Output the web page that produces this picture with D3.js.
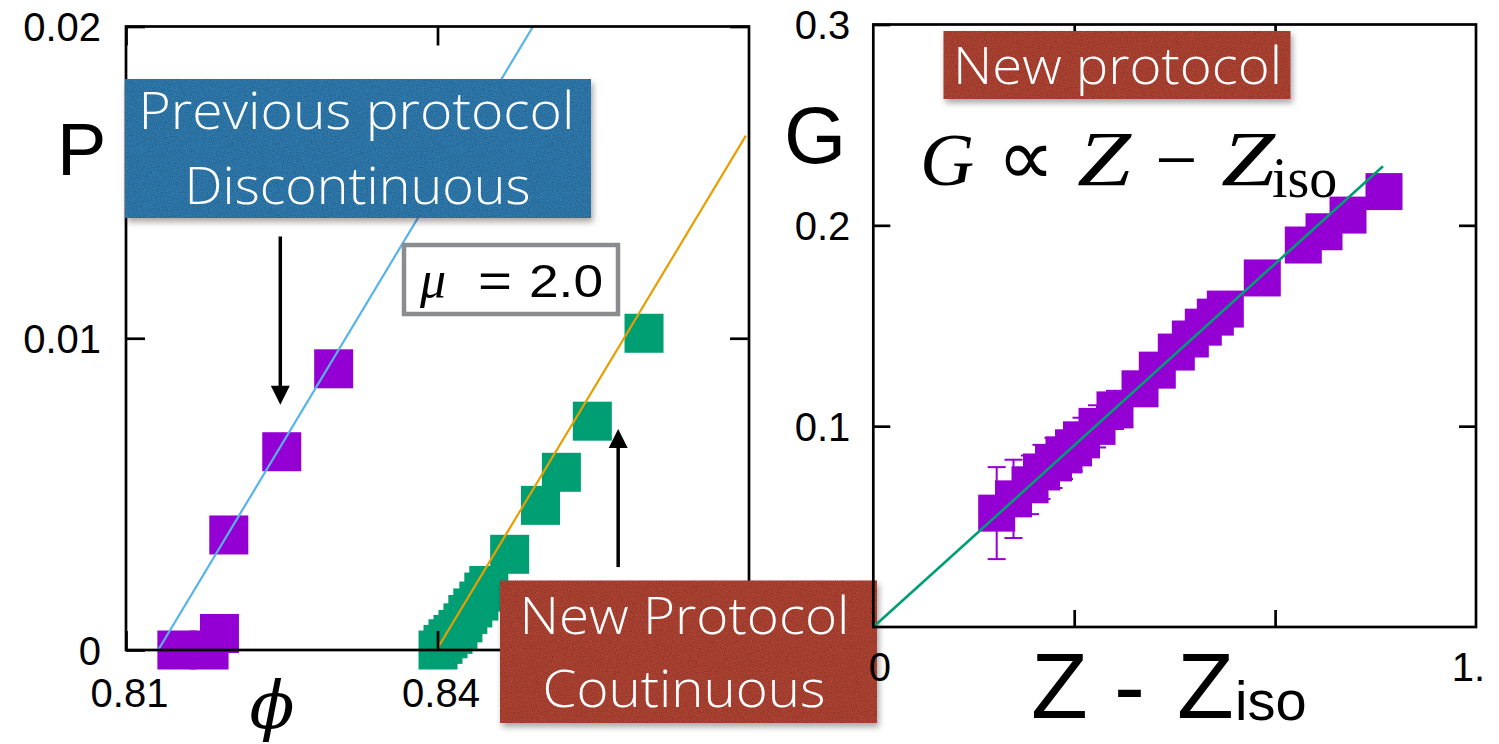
<!DOCTYPE html>
<html>
<head>
<meta charset="utf-8">
<script src="https://cdn.jsdelivr.net/npm/d3@7"></script>
<style>
  html, body { margin: 0; padding: 0; background: #ffffff; }
  svg { display: block; }
</style>
</head>
<body>
<svg id="chart" width="1499" height="744"></svg>
<script>
// ---- Pressure vs packing fraction (left panel) ----
const phiPrev = [0.8149, 0.8180, 0.8190, 0.8199, 0.8250, 0.8300];
const pPrev   = [0.0000, 0.0000, 0.00053, 0.00369, 0.00636, 0.00902];

const phiNew = [0.84005, 0.84053, 0.84101, 0.84149, 0.84197, 0.84245, 0.84292, 0.84340,
                0.84398, 0.84446, 0.84494, 0.84695, 0.84992, 0.85193, 0.85491, 0.85989];
const pNew   = [0.00000, 0.00018, 0.00036, 0.00050, 0.00066, 0.00087, 0.00114, 0.00135,
                0.00157, 0.00186, 0.00207, 0.00307, 0.00464, 0.00570, 0.00734, 0.01016];

// linear fits P = a (phi - phi_c), given by their end points
const fitPrev = [[0.8131, 0.0], [0.8492, 0.02]];
const fitNew  = [[0.8399, 0.0], [0.8697, 0.0165]];

const leftXDomain = [0.81, 0.87];
const leftYDomain = [0, 0.02];
const leftXTicks = [0.81, 0.84];
const leftXTickLabels = ["0.81", "0.84"];
const leftYTicks = [0, 0.01, 0.02];
const leftYTickLabels = ["0", "0.01", "0.02"];

// arrows, in data units: [phi, P from, P to]
const arrowPrev = [0.82486, 0.01326, 0.00787];
const arrowNew  = [0.85740, 0.00266, 0.00709];

// ---- Shear modulus vs excess contact number (right panel) ----
const zDiff = [0.3071, 0.3489, 0.3900, 0.4186, 0.4485, 0.4746, 0.4983, 0.5182, 0.5568, 0.6015,
               0.6638, 0.7068, 0.7541, 0.7890, 0.8213, 0.8512, 0.8761, 0.9681, 1.0702, 1.1217,
               1.1814, 1.2710];
const gMod  = [0.0567, 0.0638, 0.0708, 0.0772, 0.0817, 0.0857, 0.0892, 0.0932, 0.0999, 0.1081,
               0.1186, 0.1279, 0.1369, 0.1434, 0.1493, 0.1543, 0.1583, 0.1738, 0.1902, 0.1968,
               0.2051, 0.2168];
const gErr  = [0.0229, 0.0195, 0.0146, 0.0135, 0.0125, 0.0120, 0.0115, 0.0110, 0.0105, 0.0095,
               0.0080, 0.0075, 0.0070, 0.0065, 0.0060, 0.0060, 0.0055, 0.0050, 0.0050, 0.0045,
               0.0045, 0.0040];
const fitG = [[0, 0], [1.2685, 0.2294]];

const rightXDomain = [0, 1.5];
const rightYDomain = [0, 0.3];
const rightXTicks = [0, 0.5, 1.0, 1.5];
const rightXTickLabels = ["0", "", "", "1."];
const rightYTicks = [0, 0.1, 0.2, 0.3];
const rightYTickLabels = ["0", "0.1", "0.2", "0.3"];

// colours
const PURPLE = "#9400d3", GREEN = "#009e73", SKY = "#56b4e9", ORANGE = "#e69f00";
const BLUEBOX = "#2e79ad", REDBOX = "#ad4331";

const svg = d3.select("#chart");
const SANS = "'Liberation Sans', Arial, Helvetica, sans-serif";
const SERIF = "'Liberation Serif', 'Times New Roman', serif";
const LIGHT = "'Open Sans', Lato, 'Noto Sans', sans-serif";

svg.append("rect").attr("width", 1499).attr("height", 744).attr("fill", "#fff");

// filters: drop shadow for the tag boxes, fine paper grain on them
const defs = svg.append("defs");
const sh = defs.append("filter").attr("id", "shadow")
  .attr("x", "-10%").attr("y", "-10%").attr("width", "130%").attr("height", "140%");
sh.append("feDropShadow").attr("dx", 2).attr("dy", 4).attr("stdDeviation", 3)
  .attr("flood-color", "#000").attr("flood-opacity", 0.35);
const gr = defs.append("filter").attr("id", "grain").attr("x", 0).attr("y", 0).attr("width", 1).attr("height", 1);
gr.append("feTurbulence").attr("type", "fractalNoise").attr("baseFrequency", 0.8)
  .attr("numOctaves", 3).attr("seed", 5).attr("result", "n");
gr.append("feColorMatrix").attr("in", "n").attr("type", "matrix")
  .attr("values", "0 0 0 0 0  0 0 0 0 0  0 0 0 0 0  0.45 0 0 0 -0.17").attr("result", "a");
gr.append("feComposite").attr("in", "a").attr("in2", "SourceGraphic").attr("operator", "in");

// scale a text element so that its box fills the given rectangle
function fitInto(sel, x, y, w, h) {
  const b = sel.node().getBBox();
  const sx = w / b.width, sy = h / b.height;
  sel.attr("transform", `translate(${x - b.x * sx},${y - b.y * sy}) scale(${sx},${sy})`);
}

// ================= left panel =================
const L = { x0: 126, x1: 749, y0: 650, y1: 26.5 };
const xL = d3.scaleLinear().domain(leftXDomain).range([L.x0, L.x1]);
const yL = d3.scaleLinear().domain(leftYDomain).range([L.y0, L.y1]);

defs.append("clipPath").attr("id", "clipL").append("rect")
  .attr("x", L.x0).attr("y", L.y1).attr("width", L.x1 - L.x0).attr("height", L.y0 - L.y1);

const gL = svg.append("g");
const MS_L = 39;

gL.selectAll("rect.prev").data(phiPrev.map((p, i) => [p, pPrev[i]])).join("rect")
  .attr("class", "prev")
  .attr("x", d => xL(d[0]) - MS_L / 2).attr("y", d => yL(d[1]) - MS_L / 2)
  .attr("width", MS_L).attr("height", MS_L).attr("fill", PURPLE);

gL.selectAll("rect.new").data(phiNew.map((p, i) => [p, pNew[i]])).join("rect")
  .attr("class", "new")
  .attr("x", d => xL(d[0]) - MS_L / 2).attr("y", d => yL(d[1]) - MS_L / 2)
  .attr("width", MS_L).attr("height", MS_L).attr("fill", GREEN);

const lineL = d3.line().x(d => xL(d[0])).y(d => yL(d[1]));
const fitsL = gL.append("g").attr("clip-path", "url(#clipL)");
fitsL.append("path").attr("d", lineL(fitPrev)).attr("stroke", SKY).attr("stroke-width", 2.2).attr("fill", "none");
fitsL.append("path").attr("d", lineL(fitNew)).attr("stroke", ORANGE).attr("stroke-width", 2.2).attr("fill", "none");

// frame
gL.append("rect").attr("x", L.x0).attr("y", L.y1).attr("width", L.x1 - L.x0).attr("height", L.y0 - L.y1)
  .attr("fill", "none").attr("stroke", "#000").attr("stroke-width", 2.7);

function styleAxis(g, size) {
  g.select(".domain").remove();
  g.selectAll(".tick line").attr("stroke", "#000").attr("stroke-width", 2.7);
  g.selectAll(".tick text").attr("font-family", SANS).attr("font-size", size).attr("fill", "#000");
}

const TICKFS = 40;

const axL = gL.append("g").attr("transform", `translate(${L.x0},0)`)
  .call(d3.axisLeft(yL).tickValues(leftYTicks).tickSize(-19).tickPadding(25)
    .tickFormat((d, i) => leftYTickLabels[i]));
styleAxis(axL, TICKFS);
axL.selectAll(".tick text").attr("dy", "0.36em");

const axLR = gL.append("g").attr("transform", `translate(${L.x1},0)`)
  .call(d3.axisRight(yL).tickValues(leftYTicks).tickSize(-19).tickFormat(""));
styleAxis(axLR, TICKFS);

const axLB = gL.append("g").attr("transform", `translate(0,${L.y0})`)
  .call(d3.axisBottom(xL).tickValues(leftXTicks).tickSize(-19).tickPadding(0)
    .tickFormat((d, i) => leftXTickLabels[i]));
styleAxis(axLB, TICKFS);
axLB.selectAll(".tick text").attr("dy", null).attr("y", 57).attr("dx", 3);

const axLT = gL.append("g").attr("transform", `translate(0,${L.y1})`)
  .call(d3.axisTop(xL).tickValues(leftXTicks).tickSize(-19).tickFormat(""));
styleAxis(axLT, TICKFS);

// axis titles
gL.append("text").attr("x", 57).attr("y", 174.5).attr("font-family", SANS).attr("font-size", 74).text("P");
gL.append("text").attr("x", 272).attr("y", 728).attr("text-anchor", "middle")
  .attr("font-family", "'DejaVu Serif', serif").attr("font-style", "italic").attr("font-size", 66).text("ϕ");

// arrows
function arrow(g, a) {
  const x = xL(a[0]), ya = yL(a[1]), yb = yL(a[2]);
  const dir = yb > ya ? 1 : -1, head = 19, hw = 9.5;
  g.append("line").attr("x1", x).attr("x2", x).attr("y1", ya).attr("y2", yb - dir * head + dir * 1)
    .attr("stroke", "#000").attr("stroke-width", 3.5);
  g.append("path").attr("d", `M${x - hw},${yb - dir * head} L${x + hw},${yb - dir * head} L${x},${yb} Z`)
    .attr("fill", "#000");
}
arrow(gL, arrowPrev);
arrow(gL, arrowNew);

// mu label
const mu = gL.append("g");
mu.append("rect").attr("x", 404).attr("y", 245).attr("width", 214).attr("height", 69)
  .attr("fill", "#fff").attr("stroke", "#8a8c90").attr("stroke-width", 4.5);
mu.append("text").attr("x", 420).attr("y", 297).attr("font-family", SERIF).attr("font-style", "italic")
  .attr("font-size", 52).text("μ");
mu.append("text").attr("x", 478).attr("y", 297).attr("font-family", SANS).attr("font-size", 48)
  .attr("textLength", 34).attr("lengthAdjust", "spacingAndGlyphs").text("=");
mu.append("text").attr("x", 529).attr("y", 297).attr("font-family", SANS).attr("font-size", 47)
  .attr("textLength", 74).attr("lengthAdjust", "spacingAndGlyphs").text("2.0");

// tag boxes
function tag(g, x, y, w, h, fill, lines) {
  g.append("rect").attr("x", x).attr("y", y).attr("width", w).attr("height", h)
    .attr("fill", fill).attr("filter", "url(#shadow)");
  g.append("rect").attr("x", x).attr("y", y).attr("width", w).attr("height", h)
    .attr("fill", "#000").attr("filter", "url(#grain)");
  lines.forEach(l => {
    g.append("text").attr("x", l.cx).attr("y", l.base).attr("text-anchor", "middle")
      .attr("font-family", LIGHT).attr("font-weight", 300).attr("font-size", 51).attr("fill", "#fff")
      .attr("textLength", l.w).attr("lengthAdjust", "spacingAndGlyphs").text(l.t);
  });
}
tag(svg, 125, 79, 466, 139, BLUEBOX, [
  { t: "Previous protocol", cx: 356.5, base: 129, w: 436 },
  { t: "Discontinuous", cx: 357.5, base: 204, w: 346 }
]);
tag(svg, 500, 580.5, 377, 142.5, REDBOX, [
  { t: "New Protocol", cx: 684.5, base: 633.5, w: 330 },
  { t: "Coutinuous", cx: 684, base: 706.5, w: 283 }
]);

// ================= right panel =================
const R = { x0: 873.3, x1: 1476, y0: 627, y1: 24.5 };
const xR = d3.scaleLinear().domain(rightXDomain).range([R.x0, R.x1]);
const yR = d3.scaleLinear().domain(rightYDomain).range([R.y0, R.y1]);
const gR = svg.append("g");
const MS_R = 37;

const ptsR = zDiff.map((z, i) => ({ z, g: gMod[i], e: gErr[i] }));
const eb = gR.append("g").attr("stroke", PURPLE).attr("stroke-width", 2);
ptsR.forEach(p => {
  const x = xR(p.z), ya = yR(p.g + p.e), yb = yR(p.g - p.e);
  eb.append("line").attr("x1", x).attr("x2", x).attr("y1", ya).attr("y2", yb);
  eb.append("line").attr("x1", x - 9).attr("x2", x + 9).attr("y1", ya).attr("y2", ya);
  eb.append("line").attr("x1", x - 9).attr("x2", x + 9).attr("y1", yb).attr("y2", yb);
});
gR.selectAll("rect.g").data(ptsR).join("rect").attr("class", "g")
  .attr("x", d => xR(d.z) - MS_R / 2).attr("y", d => yR(d.g) - MS_R / 2)
  .attr("width", MS_R).attr("height", MS_R).attr("fill", PURPLE);

const lineR = d3.line().x(d => xR(d[0])).y(d => yR(d[1]));
gR.append("path").attr("d", lineR(fitG)).attr("stroke", GREEN).attr("stroke-width", 2.6).attr("fill", "none");

gR.append("rect").attr("x", R.x0).attr("y", R.y1).attr("width", R.x1 - R.x0).attr("height", R.y0 - R.y1)
  .attr("fill", "none").attr("stroke", "#000").attr("stroke-width", 2.7);

const axR = gR.append("g").attr("transform", `translate(${R.x0},0)`)
  .call(d3.axisLeft(yR).tickValues(rightYTicks.slice(1)).tickSize(-17).tickPadding(23)
    .tickFormat(d => rightYTickLabels[rightYTicks.indexOf(d)]));
styleAxis(axR, TICKFS);
axR.selectAll(".tick text").attr("dy", "0.36em");

const axRR = gR.append("g").attr("transform", `translate(${R.x1},0)`)
  .call(d3.axisRight(yR).tickValues(rightYTicks.slice(1, 3)).tickSize(-17).tickFormat(""));
styleAxis(axRR, TICKFS);

const axRB = gR.append("g").attr("transform", `translate(0,${R.y0})`)
  .call(d3.axisBottom(xR).tickValues(rightXTicks).tickSize(-17).tickPadding(0)
    .tickFormat((d, i) => rightXTickLabels[i]));
styleAxis(axRB, TICKFS);
axRB.selectAll(".tick text").attr("dy", null).attr("y", 54)
  .attr("dx", (d, i) => i === 0 ? 6 : -8);
axRB.selectAll(".tick line").filter(d => d === 0 || d === 1.5).remove();

const axRT = gR.append("g").attr("transform", `translate(0,${R.y1})`)
  .call(d3.axisTop(xR).tickValues([0.5, 1.0]).tickSize(-17).tickFormat(""));
styleAxis(axRT, TICKFS);

// axis titles
gR.append("text").attr("x", 784).attr("y", 163).attr("font-family", SANS).attr("font-size", 80).text("G");
const zt = gR.append("g").attr("font-family", SANS);
zt.append("text").attr("x", 1031).attr("y", 718).attr("font-size", 93).text("Z");
zt.append("text").attr("x", 1114).attr("y", 718).attr("font-size", 93).text("-");
zt.append("text").attr("x", 1177).attr("y", 718).attr("font-size", 93).text("Z");
zt.append("text").attr("x", 1235).attr("y", 720).attr("font-size", 56).text("iso");

// relation G ∝ Z − Z_iso
const fm = gR.append("g").attr("font-family", SERIF);
fm.append("text").attr("x", 920).attr("y", 185).attr("font-size", 75).attr("font-style", "italic").text("G");
const prop = fm.append("text").attr("x", 0).attr("y", 0).attr("font-size", 60)
  .attr("font-family", "'DejaVu Sans', sans-serif").attr("font-weight", 200).text("∝");
fm.append("text").attr("x", 1077).attr("y", 185).attr("font-size", 78).attr("font-style", "italic")
  .attr("textLength", 54).attr("lengthAdjust", "spacingAndGlyphs").text("Z");
fm.append("text").attr("x", 1155).attr("y", 185).attr("font-size", 75).text("−");
fm.append("text").attr("x", 1221).attr("y", 185).attr("font-size", 78).attr("font-style", "italic")
  .attr("textLength", 54).attr("lengthAdjust", "spacingAndGlyphs").text("Z");
fm.append("text").attr("x", 1272).attr("y", 197).attr("font-size", 56).text("iso");

tag(svg, 943.5, 31, 347, 68, REDBOX, [
  { t: "New protocol", cx: 1117.5, base: 83.5, w: 329 }
]);

// size the proportionality sign to the surrounding letters
(function () {
  const b = prop.node().getBBox();
  // glyph ink sits roughly in the lower-middle part of the em box
  prop.attr("x", 0).attr("y", 0);
  const sx = 58 / b.width;
  prop.attr("transform", `translate(${997 - b.x * sx},${185 - 0}) scale(${sx},${sx})`);
})();
</script>
</body>
</html>
